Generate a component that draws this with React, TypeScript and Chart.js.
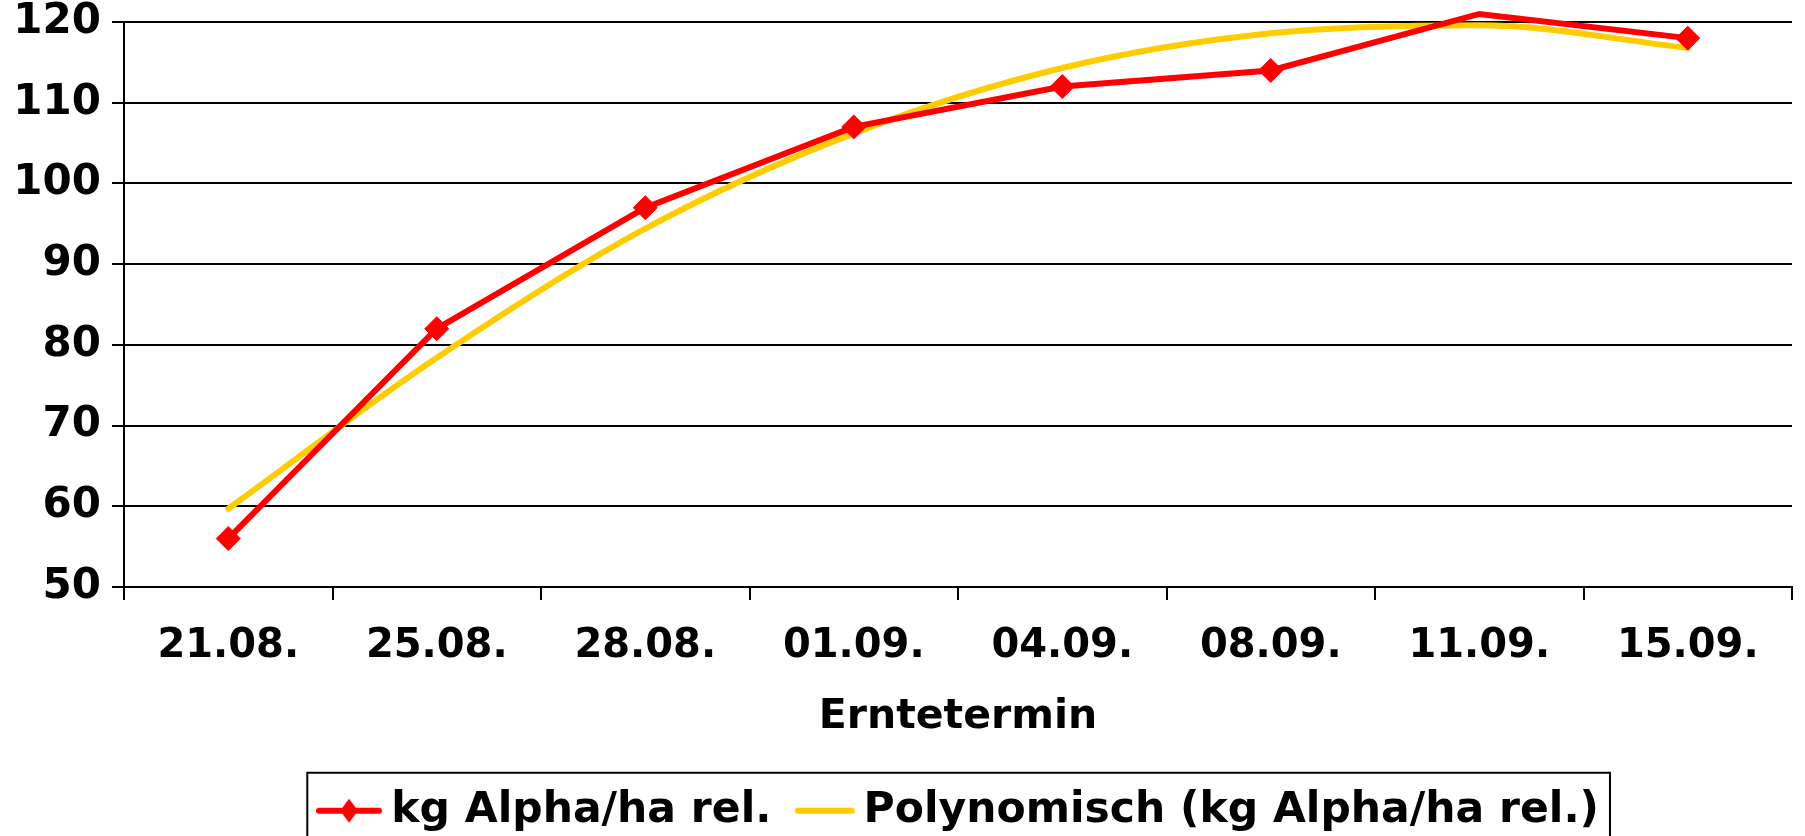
import React, { useEffect, useRef } from 'react';
import { Chart, registerables } from 'chart.js';

Chart.register(...registerables);

const categories = ['21.08.', '25.08.', '28.08.', '01.09.', '04.09.', '08.09.', '11.09.', '15.09.'];
const alphaValues = [56, 82, 97, 107, 112, 114, 121, 118];
const polyValues = [59.7, 78.4, 94.4, 106.2, 114.3, 118.6, 119.6, 116.8];
const markerRadii = [12, 12, 12, 12, 12, 12, 0, 12];
const seriesLabels = ['kg Alpha/ha rel.', 'Polynomisch (kg Alpha/ha rel.)'];
const axisTitle = 'Erntetermin';
const yMin = 50;
const yMax = 120;
const yStep = 10;

const RED = '#ff0000';
const YELLOW = '#ffcc00';
const FONT = '"DejaVu Sans", Verdana, sans-serif';
const LEGEND_FONT = 42.5;
const LEGEND_PAD = 31;
const LEGEND_BOX_W = 40;

function makeIcon(color: string, diamond: boolean): HTMLCanvasElement {
  const c = document.createElement('canvas');
  c.width = 68;
  c.height = 26;
  const ctx = c.getContext('2d') as CanvasRenderingContext2D;
  ctx.strokeStyle = color;
  ctx.lineWidth = 6;
  ctx.lineCap = 'round';
  ctx.beginPath();
  if (diamond) {
    ctx.moveTo(3, 13);
    ctx.lineTo(63, 13);
  } else {
    ctx.moveTo(9.5, 13);
    ctx.lineTo(63.5, 13);
  }
  ctx.stroke();
  if (diamond) {
    ctx.fillStyle = color;
    ctx.beginPath();
    ctx.moveTo(33, 1);
    ctx.lineTo(42, 13);
    ctx.lineTo(33, 25);
    ctx.lineTo(24, 13);
    ctx.closePath();
    ctx.fill();
  }
  return c;
}

const legendShift = {
  id: 'legendShift',
  afterLayout(chart: any) {
    const lg = chart.legend;
    if (!lg) return;
    lg.left = 131;
    lg.width = lg.right - lg.left;
  },
};

const legendFrame = {
  id: 'legendFrame',
  afterDraw(chart: any) {
    const lg = chart.legend;
    if (!lg || !lg.legendHitBoxes || !lg.legendHitBoxes.length) return;
    const boxes = lg.legendHitBoxes;
    const first = boxes[0];
    const last = boxes[boxes.length - 1];
    const left = first.left - 13.75 - 9;
    const right = last.left + last.width + 11;
    const textCenter = first.top + LEGEND_FONT / 2;
    const top = textCenter - 38;
    const ctx = chart.ctx;
    ctx.save();
    ctx.strokeStyle = '#000';
    ctx.lineWidth = 2;
    ctx.strokeRect(left, top, right - left, 120);
    ctx.restore();
  },
};

export default function App() {
  const ref = useRef<HTMLCanvasElement | null>(null);

  useEffect(() => {
    if (!ref.current) return;
    const icons = [makeIcon(RED, true), makeIcon(YELLOW, false)];
    const chart = new Chart(ref.current, {
      type: 'line',
      data: {
        labels: categories,
        datasets: [
          {
            label: seriesLabels[0],
            data: alphaValues,
            borderColor: RED,
            backgroundColor: RED,
            borderWidth: 6,
            pointStyle: 'rectRot',
            pointRadius: markerRadii,
            pointBorderWidth: 1,
            pointBackgroundColor: RED,
            pointBorderColor: RED,
            tension: 0,
            clip: false,
            order: 1,
          },
          {
            label: seriesLabels[1],
            data: polyValues,
            borderColor: YELLOW,
            backgroundColor: YELLOW,
            borderWidth: 6,
            borderCapStyle: 'round',
            pointRadius: 0,
            cubicInterpolationMode: 'monotone',
            clip: false,
            order: 2,
          },
        ],
      },
      options: {
        responsive: false,
        animation: false,
        devicePixelRatio: 1,
        layout: { padding: { left: 0, right: 7, top: 22, bottom: 4 } },
        scales: {
          x: {
            offset: true,
            afterFit: (s: any) => {
              s.height = 171.5;
            },
            grid: {
              offset: true,
              drawOnChartArea: false,
              drawTicks: true,
              tickLength: 13,
              color: '#000',
              lineWidth: 2,
            },
            border: { display: true, color: '#000', width: 2 },
            ticks: {
              color: '#000',
              padding: 23,
              font: { family: FONT, size: 40, weight: 'bold', lineHeight: 1.2 },
              maxRotation: 0,
              autoSkip: false,
            },
            title: {
              display: true,
              text: axisTitle,
              color: '#000',
              font: { family: FONT, size: 41, weight: 'bold', lineHeight: 1.2 },
              padding: { top: 0, bottom: 17 },
            },
          },
          y: {
            min: yMin,
            max: yMax,
            afterFit: (s: any) => {
              s.width = 124;
            },
            grid: {
              color: '#000',
              lineWidth: 2,
              tickLength: 12,
              drawTicks: true,
            },
            border: { display: true, color: '#000', width: 2 },
            ticks: {
              stepSize: yStep,
              color: '#000',
              padding: 11,
              font: { family: FONT, size: 42, weight: 'bold', lineHeight: 0.5 },
            },
          },
        },
        plugins: {
          tooltip: { enabled: false },
          legend: {
            display: true,
            position: 'bottom',
            labels: {
              color: '#000',
              usePointStyle: true,
              pointStyleWidth: LEGEND_BOX_W,
              padding: LEGEND_PAD,
              font: { family: FONT, size: LEGEND_FONT, weight: 'bold' },
              generateLabels: (c: any) => {
                const items = Chart.defaults.plugins.legend.labels.generateLabels(c);
                return items.map((it: any, i: number) => ({ ...it, pointStyle: icons[i], lineWidth: 0 }));
              },
            },
          },
        },
      } as any,
      plugins: [legendShift, legendFrame],
    });
    return () => chart.destroy();
  }, []);

  return (
    <div style={{ position: 'fixed', left: 0, top: 0, width: 1805, height: 836, overflow: 'hidden', background: '#fff' }}>
      <canvas ref={ref} width={1805} height={846} style={{ width: 1805, height: 846, display: 'block' }} />
    </div>
  );
}
